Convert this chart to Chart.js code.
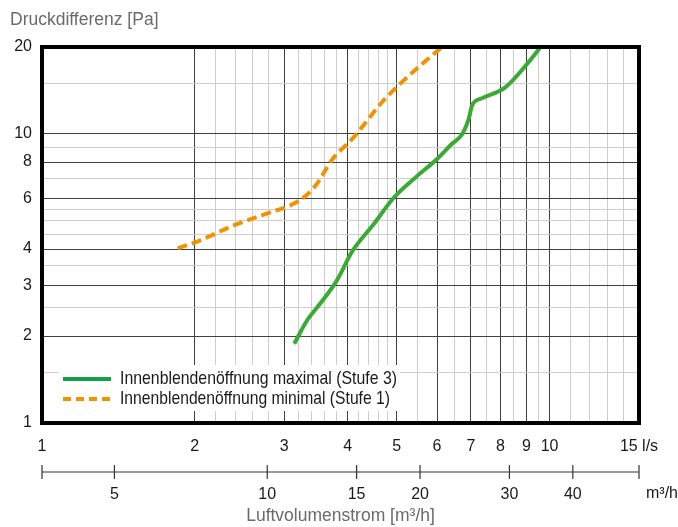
<!DOCTYPE html>
<html>
<head>
<meta charset="utf-8">
<script src="https://cdn.jsdelivr.net/npm/chart.js@4"></script>
<style>
  html, body { margin: 0; background: #fff; }
  canvas { display: block; }
</style>
</head>
<body>
<canvas id="chart" width="678" height="527"></canvas>
<script>
// Stufe 3 (maximal) and Stufe 1 (minimal), l/s vs Pa
const STUFE3_LS = [3.14, 3.32, 3.52, 3.80, 4.09, 4.48, 4.94, 5.45, 6.01, 6.40, 6.73, 6.93, 7.04, 7.36, 8.18, 8.96, 9.6];
const STUFE3_PA = [1.88, 2.25, 2.57, 3.09, 3.94, 4.82, 6.04, 7.09, 8.21, 9.2, 10.0, 11.3, 12.6, 13.3, 14.5, 17.2, 20];
const STUFE1_LS = [1.85, 2.04, 2.38, 2.76, 3.21, 3.46, 3.74, 4.09, 4.68, 5.01, 5.53, 6.14];
const STUFE1_PA = [4.02, 4.27, 4.82, 5.29, 5.88, 6.63, 8.21, 9.64, 12.9, 14.6, 17.1, 20];

const SERIES_LABELS = [
  "Innenblendenöffnung maximal (Stufe 3)",
  "Innenblendenöffnung minimal (Stufe 1)",
];

const X_LABELS = [1, 2, 3, 4, 5, 6, 7, 8, 9, 10, 15];
const X_MAJOR = [2, 3, 4, 5, 6, 7, 8, 9, 10];
const X_MINOR = [2.2, 2.4, 2.6, 2.8, 3.2, 3.4, 3.6, 3.8, 4.2, 4.4, 4.6, 4.8, 5.5, 6.5, 7.5, 8.5, 9.5, 11, 12, 13, 14];
const Y_LABELS = [1, 2, 3, 4, 6, 8, 10, 20];
const Y_MAJOR = [2, 3, 4, 6, 8, 10];
const Y_MINOR = [1.5, 2.5, 3.5, 4.5, 5, 5.5, 7, 9, 15];
const M3H_LABELS = [5, 10, 15, 20, 30, 40];

const LS_MIN = 1, LS_MAX = 15;
const M3H_PER_LS = 3.6;

const GREEN = "#3aaa35";
const GREEN_KEY = "#14a04a";
const ORANGE = "#f39200";
const GRID_DARK = "#404040";
const GRID_LIGHT = "#cdcdcd";
const GREY_TEXT = "#6a6a6a";

const FONT = "'Liberation Sans', Arial, sans-serif";
Chart.defaults.font.family = FONT;
Chart.defaults.font.size = 16;
Chart.defaults.color = "#1a1a1a";

function toPoints(xs, ys) {
  return xs.map((x, i) => ({ x, y: ys[i] }));
}

function setTicks(values) {
  return (scale) => {
    scale.ticks = [...values].sort((a, b) => a - b).map((v) => ({ value: v }));
  };
}

// legend box, m³/h axis line, y title and the heavy frame
const decorations = {
  id: "decorations",
  afterDraw(chart) {
    const { ctx, chartArea: a, scales } = chart;
    ctx.save();

    // legend
    ctx.fillStyle = "#fff";
    ctx.fillRect(58, 365, 342, 46);
    ctx.lineWidth = 4;
    ctx.strokeStyle = GREEN_KEY;
    ctx.beginPath();
    ctx.moveTo(63, 379);
    ctx.lineTo(111, 379);
    ctx.stroke();
    ctx.strokeStyle = ORANGE;
    ctx.setLineDash([8, 5]);
    ctx.beginPath();
    ctx.moveTo(63, 399);
    ctx.lineTo(111, 399);
    ctx.stroke();
    ctx.setLineDash([]);

    ctx.fillStyle = "#1a1a1a";
    ctx.font = "19px " + FONT;
    ctx.textBaseline = "middle";
    SERIES_LABELS.forEach((label, i) => {
      const w = ctx.measureText(label).width;
      const target = i === 0 ? 277 : 270;
      ctx.save();
      ctx.translate(120, 379 + i * 20);
      ctx.scale(target / w, 1);
      ctx.fillText(label, 0, 0);
      ctx.restore();
    });

    // m³/h axis line with ticks
    const x2 = scales.x2;
    const yLine = 472;
    ctx.strokeStyle = "#333";
    ctx.lineWidth = 1.2;
    ctx.beginPath();
    ctx.moveTo(x2.getPixelForValue(x2.min), yLine);
    ctx.lineTo(x2.getPixelForValue(x2.max), yLine);
    [x2.min, ...M3H_LABELS, x2.max].forEach((v) => {
      const px = x2.getPixelForValue(v);
      ctx.moveTo(px, yLine - 7);
      ctx.lineTo(px, yLine + 7);
    });
    ctx.stroke();

    ctx.font = "16px " + FONT;
    ctx.textAlign = "left";
    ctx.fillStyle = "#1a1a1a";
    ctx.fillText("m³/h", 646, 494);

    ctx.font = "17.5px " + FONT;
    ctx.fillStyle = GREY_TEXT;
    ctx.fillText("Druckdifferenz [Pa]", 10, 20);

    // frame
    ctx.strokeStyle = "#000";
    ctx.lineWidth = 4;
    ctx.strokeRect(a.left, a.top, a.right - a.left, a.bottom - a.top);
    ctx.restore();
  },
};

new Chart(document.getElementById("chart"), {
  type: "line",
  data: {
    datasets: [
      {
        label: SERIES_LABELS[0],
        data: toPoints(STUFE3_LS, STUFE3_PA),
        borderColor: GREEN,
        borderWidth: 4,
        pointRadius: 0,
        cubicInterpolationMode: "monotone",
        fill: false,
      },
      {
        label: SERIES_LABELS[1],
        data: toPoints(STUFE1_LS, STUFE1_PA),
        borderColor: ORANGE,
        borderWidth: 4,
        borderDash: [10, 5],
        pointRadius: 0,
        cubicInterpolationMode: "monotone",
        fill: false,
      },
    ],
  },
  options: {
    responsive: false,
    animation: false,
    layout: { padding: { top: 47, right: 39, bottom: 0, left: 0 } },
    plugins: {
      legend: { display: false },
      tooltip: { enabled: false },
    },
    scales: {
      x: {
        type: "logarithmic",
        position: "bottom",
        weight: 0,
        min: LS_MIN,
        max: LS_MAX,
        afterBuildTicks: setTicks([1, ...X_MAJOR, ...X_MINOR, 15]),
        afterFit: (s) => { s.height = 35; },
        ticks: {
          autoSkip: false,
          maxRotation: 0,
          padding: 14,
          callback: (v) => (X_LABELS.includes(v) ? (v === 15 ? "15 l/s" : String(v)) : ""),
        },
        grid: {
          drawTicks: false,
          color: (c) => (c.tick && X_MAJOR.includes(c.tick.value) ? GRID_DARK : GRID_LIGHT),
          lineWidth: 1,
        },
        border: { display: false },
      },
      x2: {
        type: "logarithmic",
        position: "bottom",
        weight: 1,
        min: LS_MIN * M3H_PER_LS,
        max: LS_MAX * M3H_PER_LS,
        afterBuildTicks: setTicks(M3H_LABELS),
        afterFit: (s) => { s.height = 527 - 458; },
        ticks: {
          autoSkip: false,
          maxRotation: 0,
          padding: 27,
          callback: (v) => String(v),
        },
        grid: { display: false, drawTicks: false },
        border: { display: false },
        title: {
          display: true,
          text: "Luftvolumenstrom [m³/h]",
          color: GREY_TEXT,
          font: { size: 17.5 },
          padding: { top: 0, bottom: 0 },
        },
      },
      y: {
        type: "logarithmic",
        min: 1,
        max: 20,
        afterBuildTicks: setTicks([1, ...Y_MAJOR, ...Y_MINOR, 20]),
        afterFit: (s) => { s.width = 42; },
        ticks: {
          autoSkip: false,
          padding: 10,
          callback: (v) => (Y_LABELS.includes(v) ? String(v) : ""),
        },
        grid: {
          drawTicks: false,
          color: (c) => (c.tick && Y_MAJOR.includes(c.tick.value) ? GRID_DARK : GRID_LIGHT),
          lineWidth: 1,
        },
        border: { display: false },
      },
    },
  },
  plugins: [decorations],
});
</script>
</body>
</html>
